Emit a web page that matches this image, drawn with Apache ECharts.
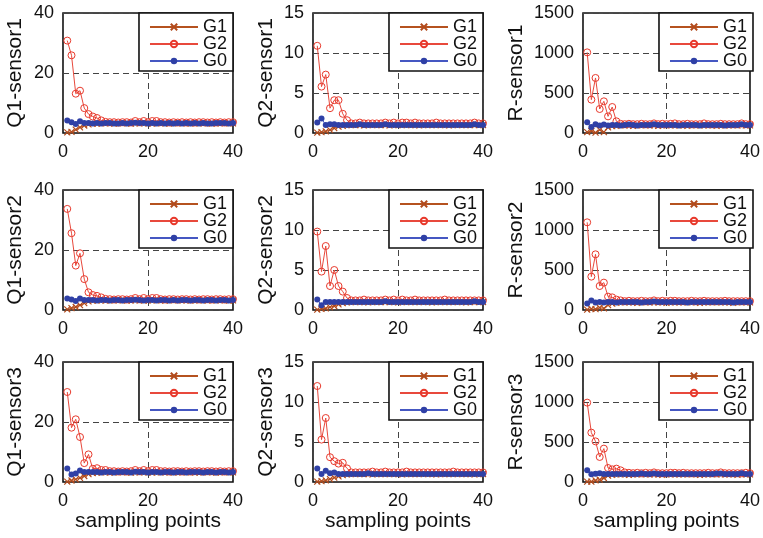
<!DOCTYPE html>
<html><head><meta charset="utf-8">
<script src="https://cdn.jsdelivr.net/npm/echarts@6/dist/echarts.min.js"></script>
<style>html,body{margin:0;padding:0;background:#fff}#c{width:763px;height:538px}</style>
</head><body><div id="c"></div>
<script>
const xs = [1,2,3,4,5,6,7,8,9,10,11,12,13,14,15,16,17,18,19,20,21,22,23,24,25,26,27,28,29,30,31,32,33,34,35,36,37,38,39,40];
const seriesNames = ['G1','G2','G0'];
const panelNames = ['Q1-sensor1','Q2-sensor1','R-sensor1','Q1-sensor2','Q2-sensor2','R-sensor2','Q1-sensor3','Q2-sensor3','R-sensor3'];
const xTicks = [0,20,40];
const yTicksQ1 = [0,20,40];
const yTicksQ2 = [0,5,10,15];
const yTicksR = [0,500,1000,1500];
const xAxisTitle = 'sampling points';

// Q1
const Q1_s1_G1 = [0.2,0.4,1.1,1.9,2.5,2.9,3.1,3.1,3.2,3.2,3.2,3.1,3.2,3.2,3.2,3.1,3.2,3.2,3.2,3.2,3.1,3.2,3.2,3.2,3.1,3.2,3.2,3.2,3.2,3.1,3.2,3.2,3.2,3.2,3.1,3.2,3.2,3.2,3.2,3.2];
const Q1_s1_G2 = [30.8,25.9,13.1,14.1,8.3,6.3,5.5,5.0,4.2,3.7,3.6,3.6,3.5,3.6,3.6,3.5,4.0,3.6,4.0,3.6,4.0,4.0,3.6,3.6,3.5,3.6,3.5,3.6,3.5,3.6,3.5,3.6,3.6,3.5,3.6,3.5,3.6,3.5,3.6,3.6];
const Q1_s1_G0 = [4.2,3.6,3.0,3.9,3.3,3.3,3.2,3.3,3.2,3.3,3.3,3.2,3.2,3.3,3.2,3.3,3.4,3.3,3.3,3.2,3.3,3.2,3.3,3.2,3.3,3.2,3.3,3.2,3.3,3.2,3.3,3.2,3.3,3.2,3.2,3.3,3.3,3.3,3.2,3.3];
const Q1_s2_G1 = [0.2,0.6,1.0,1.6,2.3,2.9,3.1,3.2,3.2,3.1,3.2,3.2,3.2,3.2,3.1,3.2,3.2,3.2,3.1,3.2,3.2,3.2,3.2,3.1,3.2,3.2,3.2,3.2,3.2,3.1,3.2,3.2,3.2,3.1,3.2,3.2,3.2,3.2,3.1,3.2];
const Q1_s2_G2 = [33.7,25.6,14.8,18.9,10.3,5.9,5.0,4.7,4.2,3.7,3.6,3.5,3.6,3.6,3.5,3.6,4.0,3.6,4.0,3.6,4.0,4.0,3.6,3.5,3.6,3.6,3.5,3.6,3.6,3.5,3.6,3.5,3.6,3.6,3.5,3.6,3.6,3.5,3.6,3.6];
const Q1_s2_G0 = [3.8,3.5,3.0,3.8,3.3,3.3,3.3,3.2,3.3,3.3,3.2,3.3,3.3,3.2,3.3,3.3,3.4,3.3,3.2,3.3,3.3,3.2,3.3,3.3,3.2,3.3,3.2,3.3,3.3,3.2,3.3,3.3,3.2,3.3,3.3,3.2,3.3,3.3,3.2,3.3];
const Q1_s3_G1 = [0.1,0.5,0.9,1.4,2.0,2.6,3.0,3.1,3.2,3.2,3.1,3.2,3.2,3.2,3.2,3.1,3.2,3.2,3.2,3.2,3.1,3.2,3.2,3.2,3.2,3.1,3.2,3.2,3.2,3.2,3.1,3.2,3.2,3.2,3.2,3.1,3.2,3.2,3.2,3.2];
const Q1_s3_G2 = [30.0,18.1,20.9,15.0,6.3,9.2,4.4,4.6,4.0,4.0,3.6,3.6,3.5,3.6,3.5,3.6,4.0,3.6,4.0,3.6,4.0,4.0,3.6,3.6,3.5,3.6,3.6,3.5,3.6,3.5,3.6,3.6,3.5,3.6,3.6,3.5,3.6,3.5,3.6,3.6];
const Q1_s3_G0 = [4.5,2.5,2.8,3.8,3.3,3.3,3.3,3.3,3.2,3.3,3.3,3.2,3.3,3.3,3.3,3.2,3.4,3.3,3.3,3.2,3.3,3.3,3.2,3.3,3.3,3.2,3.3,3.3,3.2,3.3,3.3,3.3,3.2,3.3,3.3,3.2,3.3,3.3,3.2,3.3];
// Q2
const Q2_s1_G1 = [0.05,0.1,0.2,0.4,0.6,0.8,0.9,1.0,1.0,1.0,1.0,0.95,1.0,1.0,1.0,1.0,1.0,0.95,1.0,1.0,1.0,1.0,1.0,1.0,0.95,1.0,1.0,1.0,1.0,1.0,1.0,0.95,1.0,1.0,1.0,1.0,1.0,1.0,1.0,1.0];
const Q2_s1_G2 = [10.9,5.8,7.3,3.1,4.1,4.1,2.4,1.6,1.2,1.2,1.3,1.2,1.2,1.2,1.2,1.2,1.3,1.2,1.3,1.2,1.3,1.3,1.2,1.3,1.2,1.2,1.2,1.2,1.3,1.2,1.2,1.2,1.2,1.2,1.2,1.2,1.2,1.3,1.2,1.2];
const Q2_s1_G0 = [1.3,1.8,1.0,1.1,1.1,1.0,1.0,1.0,1.0,1.0,1.1,1.0,1.0,1.0,1.0,1.0,1.1,1.0,1.0,1.0,1.0,1.0,1.0,1.0,1.0,1.0,1.0,1.0,1.0,1.0,1.0,1.0,1.0,1.0,1.0,1.0,1.0,1.1,1.0,1.0];
const Q2_s2_G1 = [0.05,0.15,0.2,0.35,0.5,0.7,0.85,0.95,1.0,1.0,1.0,1.0,0.95,1.0,1.0,1.0,1.0,1.0,1.0,0.95,1.0,1.0,1.0,1.0,1.0,1.0,1.0,0.95,1.0,1.0,1.0,1.0,1.0,1.0,1.0,0.95,1.0,1.0,1.0,1.0];
const Q2_s2_G2 = [9.8,4.8,8.0,3.0,5.0,3.0,2.3,1.5,1.2,1.2,1.2,1.3,1.2,1.2,1.2,1.2,1.3,1.2,1.3,1.2,1.3,1.2,1.2,1.3,1.2,1.2,1.2,1.2,1.2,1.2,1.3,1.2,1.2,1.2,1.2,1.2,1.2,1.2,1.2,1.2];
const Q2_s2_G0 = [1.3,0.6,1.0,1.0,1.0,1.0,1.0,1.0,1.0,1.0,1.0,1.0,1.0,1.0,1.0,1.0,1.1,1.0,1.0,1.0,1.0,1.0,1.0,1.0,1.0,1.0,1.0,1.0,1.0,1.0,1.0,1.0,1.0,1.0,1.0,1.0,1.0,1.1,1.0,1.0];
const Q2_s3_G1 = [0.05,0.1,0.2,0.35,0.55,0.7,0.85,0.95,1.0,1.0,1.0,1.0,1.0,0.95,1.0,1.0,1.0,1.0,1.0,1.0,0.95,1.0,1.0,1.0,1.0,1.0,1.0,1.0,0.95,1.0,1.0,1.0,1.0,1.0,1.0,1.0,1.0,0.95,1.0,1.0];
const Q2_s3_G2 = [12.0,5.3,8.0,3.1,2.6,2.3,2.4,1.7,1.2,1.2,1.2,1.2,1.2,1.3,1.2,1.2,1.3,1.2,1.2,1.2,1.2,1.3,1.2,1.2,1.2,1.2,1.2,1.2,1.2,1.2,1.2,1.2,1.3,1.2,1.2,1.2,1.2,1.2,1.2,1.2];
const Q2_s3_G0 = [1.7,1.0,1.4,1.1,1.2,1.0,1.0,1.0,1.0,1.0,1.0,1.0,1.1,1.0,1.0,1.0,1.0,1.0,1.0,1.0,1.0,1.0,1.0,1.0,1.0,1.0,1.0,1.0,1.0,1.0,1.0,1.0,1.0,1.0,1.0,1.0,1.0,1.0,1.0,1.0];
// R
const R_s1_G1 = [10,25,5,40,10,70,85,90,95,95,95,90,95,95,95,95,95,90,95,95,95,95,95,95,90,95,95,95,95,95,95,90,95,95,95,95,95,95,95,95];
const R_s1_G2 = [1008,417,688,300,396,208,325,146,115,110,115,110,110,115,110,110,120,110,115,110,115,120,110,110,115,110,110,110,120,110,110,110,115,110,110,110,110,120,110,110];
const R_s1_G0 = [133,75,110,95,105,95,100,100,95,100,105,100,95,100,100,100,110,100,100,100,100,100,95,100,100,100,100,95,100,100,100,100,100,95,100,100,100,110,100,100];
const R_s2_G1 = [5,15,10,30,20,60,80,90,95,95,95,95,90,95,95,95,95,95,95,90,95,95,95,95,95,95,95,90,95,95,95,95,95,95,95,90,95,95,95,95];
const R_s2_G2 = [1096,417,696,300,342,167,158,130,120,110,115,110,110,115,110,110,120,110,115,110,115,115,110,110,110,115,110,110,115,110,110,110,110,115,110,110,110,110,110,110];
const R_s2_G0 = [80,120,95,100,95,100,100,95,100,100,100,100,100,95,100,100,105,100,100,100,100,100,100,100,95,100,100,100,100,100,100,100,100,100,100,95,100,100,100,100];
const R_s3_G1 = [5,5,20,30,50,80,90,95,95,95,90,95,95,95,95,95,95,95,90,95,95,95,95,95,95,95,95,90,95,95,95,95,95,95,95,95,90,95,95,95];
const R_s3_G2 = [992,617,508,313,417,175,158,167,146,120,115,110,115,110,115,110,120,110,110,110,115,115,110,115,110,110,110,110,110,115,110,110,120,110,110,110,110,110,115,110];
const R_s3_G0 = [146,96,104,108,100,100,100,100,100,100,100,100,100,105,100,100,105,100,100,100,100,100,100,100,100,100,100,100,100,100,100,105,105,100,100,100,100,110,100,100];

const panelData = [
  [Q1_s1_G1,Q1_s1_G2,Q1_s1_G0],[Q2_s1_G1,Q2_s1_G2,Q2_s1_G0],[R_s1_G1,R_s1_G2,R_s1_G0],
  [Q1_s2_G1,Q1_s2_G2,Q1_s2_G0],[Q2_s2_G1,Q2_s2_G2,Q2_s2_G0],[R_s2_G1,R_s2_G2,R_s2_G0],
  [Q1_s3_G1,Q1_s3_G2,Q1_s3_G0],[Q2_s3_G1,Q2_s3_G2,Q2_s3_G0],[R_s3_G1,R_s3_G2,R_s3_G0]
];
const yTickSets = [yTicksQ1,yTicksQ2,yTicksR];

const FONT = '"Liberation Sans", Arial, Helvetica, sans-serif';
const lefts = [63, 313, 583];
const tops = [13, 190, 362];
const W = 170, H = 120;
const nameGaps = [37, 36, 56];
const colors = {G1:'#b24a1c', G2:'#e8392c', G0:'#2f40a6'};
const lineColors = {G1:'#b5521f', G2:'#e8493c', G0:'#4557c2'};
const dash = {type:[6,4], color:'#444', width:1};

const grids=[], xAxes=[], yAxes=[], series=[], legends=[];
for (let r=0;r<3;r++) for (let c=0;c<3;c++) {
  const i = r*3+c;
  const yt = yTickSets[c];
  grids.push({left:lefts[c], top:tops[r], width:W, height:H, show:true, borderColor:'#111', borderWidth:1.6, backgroundColor:'transparent'});
  xAxes.push({gridIndex:i, type:'value', min:xTicks[0], max:xTicks[xTicks.length-1], interval:xTicks[1]-xTicks[0],
    axisLine:{show:false}, axisTick:{show:false},
    axisLabel:{fontSize:18, color:'#111', fontFamily:FONT, margin:10},
    splitLine:{show:true, lineStyle:dash},
    name: r===2 ? xAxisTitle : '', nameLocation:'middle', nameGap:29,
    nameTextStyle:{fontSize:21, color:'#111', fontFamily:FONT}});
  yAxes.push({gridIndex:i, type:'value', min:yt[0], max:yt[yt.length-1], interval:yt[1]-yt[0],
    axisLine:{show:false}, axisTick:{show:false},
    axisLabel:{fontSize:18, color:'#111', fontFamily:FONT, margin:9, formatter: v => String(v)},
    splitLine:{show:true, lineStyle:dash},
    name: panelNames[i], nameLocation:'middle', nameRotate:90, nameGap:nameGaps[c],
    nameTextStyle:{fontSize:21, color:'#111', fontFamily:FONT}});
  seriesNames.forEach((nm,k)=>{
    const base = {name:nm, type:'line', xAxisIndex:i, yAxisIndex:i, animation:false,
      data: xs.map((x,j)=>[x, panelData[i][k][j]]), z: 2+k,
      lineStyle:{color:lineColors[nm], width:1}, color:colors[nm]};
    if (nm==='G1') { base.symbol='path://M0,0L10,10M10,0L0,10'; base.symbolSize=6;
      base.itemStyle={color:'rgba(0,0,0,0)', borderColor:colors[nm], borderWidth:1.2}; }
    if (nm==='G2') { base.symbol='circle'; base.symbolSize=7;
      base.itemStyle={color:'rgba(0,0,0,0)', borderColor:colors[nm], borderWidth:1}; }
    if (nm==='G0') { base.symbol='circle'; base.symbolSize=6;
      base.itemStyle={color:colors[nm]}; }
    series.push(base);
  });
  legends.push({orient:'vertical', right: 763-(lefts[c]+W), top:tops[r],
    data:seriesNames, backgroundColor:'#fff', borderColor:'#111', borderWidth:1.6,
    padding:[5,6,1,10], itemWidth:48, itemHeight:8, itemGap:-1,
    textStyle:{fontSize:18, color:'#111', fontFamily:FONT, width:26},
    selectedMode:false, z:10});
}
const chart = echarts.init(document.getElementById('c'), null, {renderer:'canvas'});
chart.setOption({animation:false, backgroundColor:'#fff', grid:grids, xAxis:xAxes, yAxis:yAxes, series:series, legend:legends});
</script></body></html>
